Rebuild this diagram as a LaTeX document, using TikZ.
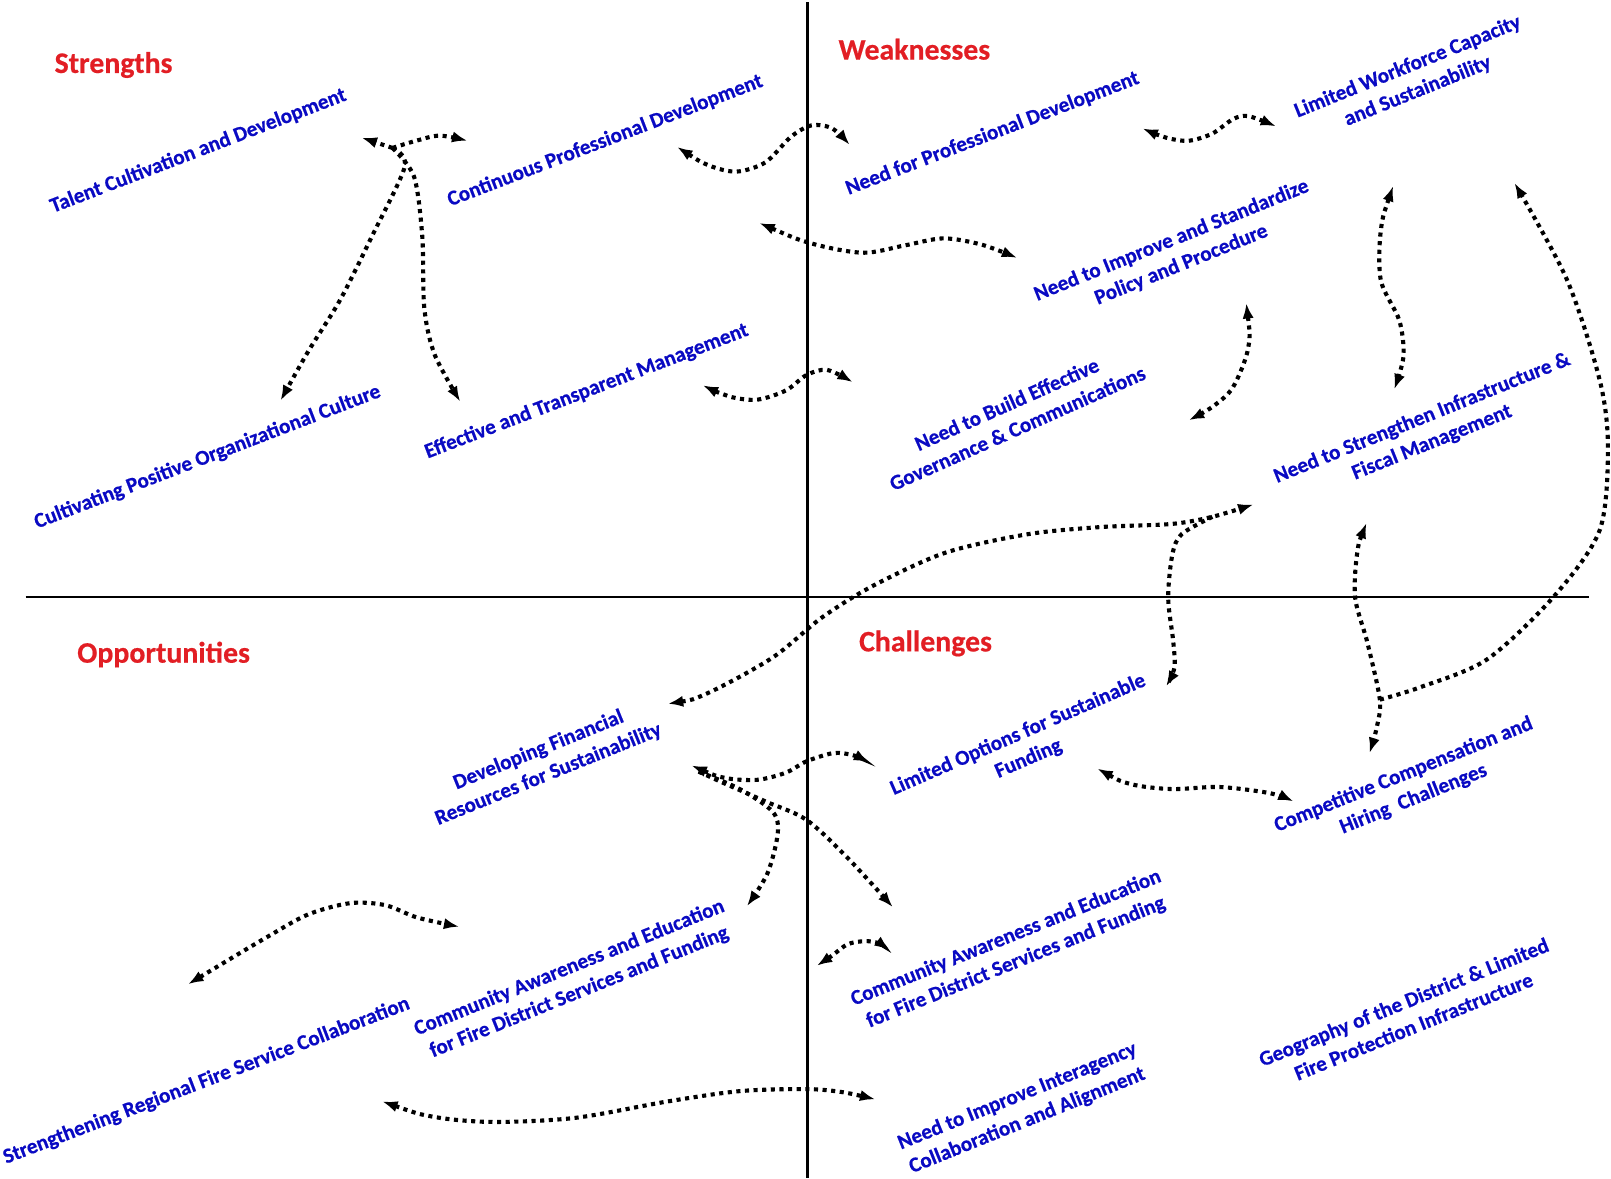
\documentclass[tikz,border=0pt]{standalone}
\usepackage{fontspec}
\setmainfont{Carlito}
\newfontfamily\lblfont[BoldFeatures={FakeBold=0.5}]{Carlito}
\usetikzlibrary{arrows.meta}
\definecolor{lblue}{RGB}{10,10,195}
\definecolor{hred}{RGB}{226,30,36}
\begin{document}
\begin{tikzpicture}[x=1pt,y=-1pt,
  lblbase/.style={text=lblue, font=\lblfont\fontsize{20.6}{25.5}\selectfont\bfseries, align=center, inner sep=0pt},
  lbl/.style={lblbase, rotate=21},
  lbltwo/.style={lblbase, rotate=22},
  head/.style={text=hred, font=\lblfont\fontsize{29}{33}\selectfont\bfseries, anchor=base west, inner sep=0pt},
  axis/.style={line width=2.3pt},
  link/.style={line width=4pt, dash pattern=on 4pt off 4.4pt,
    arrows={-Latex[length=15pt,width=11pt]}},
  both/.style={link, arrows={Latex[length=15pt,width=11pt]-Latex[length=15pt,width=11pt]}},
]
\fill[white] (0,0) rectangle (1568,1147);
\useasboundingbox (0,0) rectangle (1568,1147);

% quadrant axes
\coordinate (vtop) at (786,2);
\coordinate (vbot) at (786,1147);
\coordinate (hleft) at (25,581);
\coordinate (hright) at (1547,581);
\draw[axis] (vtop) -- (vbot);
\draw[axis] (hleft) -- (hright);

% quadrant headings
\node[head] (hs) at (53,71) {Strengths};
\node[head] (hw) at (816,58) {Weaknesses};
\node[head] (ho) at (75,645) {Opportunities};
\node[head] (hc) at (836,634) {Challenges};

% strengths
\node[lbl] (talent) at (193,147) {Talent Cultivation and Development};
\node[lbl] (cont) at (589,137) {Continuous Professional Development};
\node[lbl] (culture) at (202,445) {Cultivating Positive Organizational Culture};
\node[lbl] (effect) at (571,381) {Effective and Transparent Management};

% weaknesses
\node[lbl] (needpd) at (966,130) {Need for Professional Development};
\node[lbltwo] (workforce) at (1375,77) {Limited Workforce Capacity\\and Sustainability};
\node[lbltwo] (policy) at (1145,246) {Need to Improve and Standardize\\Policy and Procedure};
\node[lblbase, rotate=24] (govern) at (985,405) {Need to Build Effective\\Governance \& Communications};
\node[lbltwo] (infra) at (1389,419) {Need to Strengthen Infrastructure \&\\Fiscal Management};

% opportunities
\node[lbltwo] (finance) at (529,742) {Developing Financial\\Resources for Sustainability};
\node[lbltwo] (commL) at (559,954) {Community Awareness and Education\\for Fire District Services and Funding};
\node[lbl] (regional) at (201,1052) {Strengthening Regional Fire Service Collaboration};

% challenges
\node[lblbase, rotate=23.5] (options) at (996,727) {Limited Options for Sustainable\\Funding};
\node[lbltwo] (comp) at (1371,766) {Competitive Compensation and\\Hiring\ \ Challenges};
\node[lbltwo] (commR) at (984,925) {Community Awareness and Education\\for Fire District Services and Funding};
\node[lbltwo] (interagency) at (995,1079) {Need to Improve Interagency\\Collaboration and Alignment};
\node[lbltwo] (geo) at (1371,987) {Geography of the District \& Limited\\Fire Protection Infrastructure};

% connector end points
\coordinate (a-hub) at (382,144);
\coordinate (a-talent) at (352,134);
\coordinate (a-cont) at (455,137);
\coordinate (a-culture) at (273,390);
\coordinate (a-effect) at (448,391);
\coordinate (b-l) at (659,143);
\coordinate (b-r) at (827,141);
\coordinate (c-l) at (739,217);
\coordinate (c-r) at (990,251);
\coordinate (d-l) at (684,375);
\coordinate (d-r) at (830,372);
\coordinate (e-l) at (1112,125);
\coordinate (e-r) at (1242,123);
\coordinate (f-t) at (1213,295);
\coordinate (f-b) at (1157,409);
\coordinate (g-t) at (1356,181);
\coordinate (g-b) at (1357,379);
\coordinate (i-t) at (1330,509);
\coordinate (i-b) at (1333,733);
\coordinate (i-j) at (1343,681);
\coordinate (h-t) at (1474,178);
\coordinate (j-l) at (650,685);
\coordinate (j-r) at (1220,491);
\coordinate (j-k) at (1180,503);
\coordinate (k-b) at (1135,668);
\coordinate (l-l) at (673,745);
\coordinate (l-r) at (846,742);
\coordinate (m-hub) at (680,751);
\coordinate (m-l) at (727,882);
\coordinate (m-r) at (869,883);
\coordinate (n-l) at (183,958);
\coordinate (n-r) at (447,902);
\coordinate (o-l) at (372,1072);
\coordinate (o-r) at (852,1070);
\coordinate (p-l) at (795,940);
\coordinate (p-r) at (866,925);
\coordinate (q-l) at (1068,748);
\coordinate (q-r) at (1259,780);

% strengths fan
\draw[link] plot[smooth] coordinates {(a-hub) (367,139) (a-talent)};
\draw[link] plot[smooth] coordinates {(a-hub) (405,137) (428,132) (a-cont)};
\draw[link] plot[smooth] coordinates {(a-hub) (394,162) (362,230) (331,292) (300,342) (a-culture)};
\draw[link] plot[smooth] coordinates {(a-hub) (403,172) (411,230) (413,300) (423,345) (a-effect)};

% strengths <-> weaknesses
\draw[both] plot[smooth] coordinates {(b-l) (690,161) (717,167) (745,158) (770,133) (790,122) (810,125) (b-r)};
\draw[both] plot[smooth] coordinates {(c-l) (790,237) (840,246) (880,239) (918,232) (955,238) (c-r)};
\draw[both] plot[smooth] coordinates {(d-l) (710,386) (737,389) (765,380) (785,365) (805,360) (d-r)};

% weaknesses
\draw[both] plot[smooth] coordinates {(e-l) (1135,134) (1157,137) (1180,130) (1200,116) (1215,113) (e-r)};
\draw[both] plot[smooth] coordinates {(f-t) (1215,338) (1200,377) (1180,396) (f-b)};
\draw[both] plot[smooth] coordinates {(g-t) (1344,224) (1344,273) (1362,312) (1366,347) (g-b)};

% infrastructure / compensation links
\draw[both] plot[smooth] coordinates {(i-t) (1321,538) (1319,582) (1331,626) (i-j) (1340,708) (i-b)};
\draw[link] plot[smooth] coordinates {(i-j) (1382,669) (1447,642) (1512,581) (1557,516) (1565,435) (1557,370) (1525,272) (h-t)};

% financial resources <-> infrastructure, and funding branch
\draw[both] plot[smooth] coordinates {(j-l) (688,675) (752,640) (800,601) (850,570) (920,538) (1000,520) (1071,513) (1140,510) (j-k) (j-r)};
\draw[link] plot[smooth] coordinates {(j-k) (1150,520) (1141,540) (1137,582) (1142,625) (1143,650) (k-b)};

% opportunities <-> challenges
\draw[both] plot[smooth] coordinates {(l-l) (705,757) (737,759) (765,752) (785,741) (811,733) (830,735) (l-r)};
\draw[link] plot[smooth] coordinates {(m-hub) (720,768) (752,790) (757,811) (747,850) (m-l)};
\draw[link] plot[smooth] coordinates {(m-hub) (704,762) (745,780) (785,798) (825,835) (m-r)};
\draw[both] plot[smooth] coordinates {(n-l) (260,912) (300,890) (341,879) (375,881) (406,893) (n-r)};
\draw[both] plot[smooth] coordinates {(o-l) (422,1087) (480,1092) (560,1088) (650,1072) (720,1062) (785,1060) (820,1063) (o-r)};
\draw[both] plot[smooth] coordinates {(p-l) (810,930) (825,919) (842,916) (855,918) (p-r)};
\draw[both] plot[smooth] coordinates {(q-l) (1100,763) (1140,768) (1187,766) (1236,772) (q-r)};
\end{tikzpicture}
\end{document}
